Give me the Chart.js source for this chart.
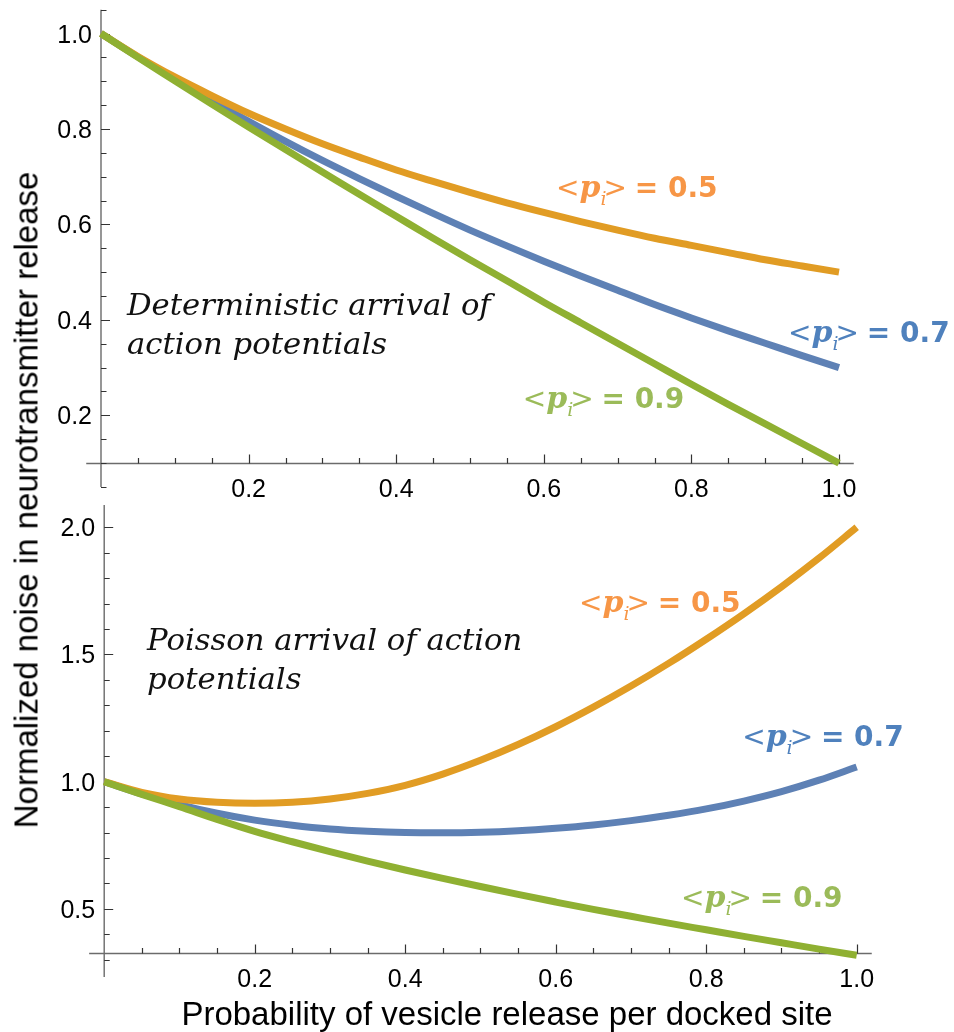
<!DOCTYPE html>
<html>
<head>
<meta charset="utf-8">
<title>Normalized noise in neurotransmitter release</title>
<script src="https://cdn.jsdelivr.net/npm/chart.js@4.4.1/dist/chart.umd.min.js"></script>
<style>
  body { margin: 0; background: #fff; }
  #wrap { position: relative; width: 954px; height: 1032px; overflow: hidden; }
  #wrap canvas { position: absolute; left: 0; }
  #top-chart { top: 0; }
  #bottom-chart { top: 500px; }
  .axis-title { position: absolute; font: 33px "Liberation Sans", Arial, sans-serif; line-height: 33px; white-space: nowrap; color: #000; }
  #y-title { left: 26px; top: 500px; transform: translate(-50%, -50%) rotate(-90deg); }
  #x-title { left: 507px; top: 997px; transform: translateX(-50%); }
</style>
</head>
<body>
<div id="wrap">
  <canvas id="top-chart" width="954" height="500"></canvas>
  <canvas id="bottom-chart" width="954" height="532"></canvas>
  <div id="y-title" class="axis-title">Normalized noise in neurotransmitter release</div>
  <div id="x-title" class="axis-title">Probability of vesicle release per docked site</div>
</div>
<script>
// probability of release per docked site (x values)
const releaseProb = [0, 0.05, 0.1, 0.15, 0.2, 0.25, 0.3, 0.35, 0.4, 0.45, 0.5,
                     0.55, 0.6, 0.65, 0.7, 0.75, 0.8, 0.85, 0.9, 0.95, 1.0];

// deterministic arrival of action potentials
const detP05 = [1.000, 0.952, 0.909, 0.870, 0.833, 0.800, 0.769, 0.741, 0.714, 0.690, 0.667,
                0.645, 0.625, 0.606, 0.588, 0.571, 0.556, 0.541, 0.526, 0.513, 0.500];
const detP07 = [1.000, 0.951, 0.904, 0.859, 0.816, 0.774, 0.734, 0.696, 0.659, 0.623, 0.588,
                0.555, 0.523, 0.492, 0.462, 0.432, 0.404, 0.377, 0.351, 0.325, 0.300];
const detP09 = [1.000, 0.950, 0.901, 0.852, 0.804, 0.757, 0.710, 0.663, 0.617, 0.571, 0.526,
                0.482, 0.437, 0.394, 0.351, 0.308, 0.265, 0.223, 0.182, 0.141, 0.100];

// poisson arrival of action potentials
const poisP05 = [1.000, 0.958, 0.932, 0.919, 0.915, 0.919, 0.932, 0.954, 0.986, 1.030, 1.084,
                 1.146, 1.216, 1.293, 1.376, 1.465, 1.560, 1.660, 1.766, 1.879, 2.000];
const poisP07 = [1.000, 0.952, 0.910, 0.876, 0.849, 0.829, 0.814, 0.805, 0.800, 0.799, 0.801,
                 0.807, 0.817, 0.830, 0.847, 0.868, 0.893, 0.924, 0.961, 1.006, 1.058];
const poisP09 = [1.000, 0.950, 0.902, 0.852, 0.805, 0.764, 0.725, 0.688, 0.653, 0.620, 0.588,
                 0.557, 0.527, 0.498, 0.471, 0.444, 0.418, 0.392, 0.367, 0.342, 0.318];

const xTickLabels = [0.2, 0.4, 0.6, 0.8, 1.0];
const detYTicks = [0.2, 0.4, 0.6, 0.8, 1.0];
const poisYTicks = [0.5, 1.0, 1.5, 2.0];

const lineColors = { p05: '#E19C24', p07: '#5E81B5', p09: '#8FB032' };
const tagColors = { p05: '#F79646', p07: '#4F81BD', p09: '#9BBB59' };

function toPoints(vals) {
    return releaseProb.map((p, i) => ({ x: p, y: vals[i] }));
}

// green first so it ends up on top, blue drawn underneath
function buildDatasets(p05, p07, p09) {
    return [
        { label: '<p_i> = 0.9', data: toPoints(p09), borderColor: lineColors.p09 },
        { label: '<p_i> = 0.5', data: toPoints(p05), borderColor: lineColors.p05 },
        { label: '<p_i> = 0.7', data: toPoints(p07), borderColor: lineColors.p07 }
    ];
}

function stepsBetween(a, b, step) {
    const out = [];
    for (let k = Math.ceil(a / step - 1e-6); k * step <= b + 1e-9; k++) {
        out.push(+(k * step).toFixed(4));
    }
    return out;
}

// Mathematica style axes: crossing lines, ticks pointing inwards
const mmaAxes = {
    id: 'mmaAxes',
    beforeDatasetsDraw(chart, args, o) {
        const ctx = chart.ctx;
        const x = chart.scales.x, y = chart.scales.y;
        const ox = x.getPixelForValue(0);
        const oy = Math.round(y.getPixelForValue(o.originY)) + 0.5;

        ctx.save();
        ctx.lineWidth = 1.4;
        ctx.strokeStyle = '#6b6b6b';
        ctx.beginPath();
        ctx.moveTo(ox, y.top); ctx.lineTo(ox, y.bottom);
        ctx.moveTo(x.left, oy); ctx.lineTo(x.right, oy);
        ctx.stroke();

        ctx.lineWidth = 1.2;
        ctx.strokeStyle = '#333';
        ctx.beginPath();
        stepsBetween(y.min, y.max, o.yMinor).forEach(v => {
            const major = o.yTicks.some(t => Math.abs(t - v) < 1e-6);
            const py = Math.round(y.getPixelForValue(v)) + 0.5;
            ctx.moveTo(ox, py);
            ctx.lineTo(ox + (major ? 9 : 5.5), py);
        });
        stepsBetween(0.05, 1.0, 0.05).forEach(v => {
            const major = xTickLabels.some(t => Math.abs(t - v) < 1e-6);
            const px = Math.round(x.getPixelForValue(v)) + 0.5;
            ctx.moveTo(px, oy);
            ctx.lineTo(px, oy - (major ? 9 : 5.5));
        });
        ctx.stroke();

        ctx.fillStyle = '#000';
        ctx.font = '25px "Liberation Sans", Arial, sans-serif';
        ctx.textAlign = 'right';
        o.yTicks.forEach(v => ctx.fillText(v.toFixed(1), ox - 9, y.getPixelForValue(v) + 9));
        ctx.textAlign = 'center';
        xTickLabels.forEach(v => ctx.fillText(v.toFixed(1), x.getPixelForValue(v), oy + 33));
        ctx.restore();
    }
};

function drawTag(ctx, px, py, value, color) {
    const parts = [
        ['<', '28px "DejaVu Sans"', 0, 0],
        ['p', 'italic bold 30px "DejaVu Serif"', 0, 0],
        ['i', 'italic 19px "DejaVu Serif"', 8, -3],
        ['>', '28px "DejaVu Sans"', 0, -2],
        [' = ' + value.toFixed(1), 'bold 28px "DejaVu Sans"', 0, 0]
    ];
    let cx = px;
    ctx.fillStyle = color;
    ctx.textAlign = 'left';
    parts.forEach(([t, f, dy, kern]) => {
        ctx.font = f;
        ctx.fillText(t, cx, py + dy);
        cx += ctx.measureText(t).width + kern;
    });
}

const notesPlugin = {
    id: 'notes',
    afterDatasetsDraw(chart, args, o) {
        const ctx = chart.ctx;
        const x = chart.scales.x, y = chart.scales.y;
        ctx.save();
        ctx.fillStyle = '#111';
        ctx.font = 'italic 30.7px "DejaVu Serif"';
        ctx.textAlign = 'left';
        const nx = x.getPixelForValue(o.note.p);
        const ny = y.getPixelForValue(o.note.v);
        o.note.lines.forEach((t, i) => ctx.fillText(t, nx, ny + i * 39));
        o.tags.forEach(t => drawTag(ctx, x.getPixelForValue(t.p), y.getPixelForValue(t.v), t.value, t.color));
        ctx.restore();
    }
};

function makeChart(id, datasets, scaleY, padding, axesOpts, notesOpts) {
    return new Chart(document.getElementById(id), {
        type: 'line',
        data: { datasets: datasets },
        plugins: [mmaAxes, notesPlugin],
        options: {
            responsive: false,
            animation: false,
            devicePixelRatio: 1,
            events: [],
            layout: { padding: padding },
            datasets: {
                line: {
                    borderWidth: 7,
                    pointRadius: 0,
                    fill: false,
                    cubicInterpolationMode: 'monotone',
                    borderCapStyle: 'butt',
                    borderJoinStyle: 'round',
                    clip: false
                }
            },
            scales: {
                x: { type: 'linear', min: -0.02, max: 1.02, display: false },
                y: { type: 'linear', min: scaleY[0], max: scaleY[1], display: false }
            },
            plugins: {
                legend: { display: false },
                tooltip: { enabled: false },
                mmaAxes: axesOpts,
                notes: notesOpts
            }
        }
    });
}

makeChart('top-chart',
    buildDatasets(detP05, detP07, detP09),
    [0.05, 1.05],
    { left: 86.24, right: 100.24, top: 9.64, bottom: 13.1 },
    { originY: 0.1, yTicks: detYTicks, yMinor: 0.05 },
    {
        note: { lines: ['Deterministic arrival of', 'action potentials'], p: 0.0352, v: 0.4102 },
        tags: [
            { value: 0.5, color: tagColors.p05, p: 0.6165, v: 0.6574 },
            { value: 0.7, color: tagColors.p07, p: 0.931, v: 0.3536 },
            { value: 0.9, color: tagColors.p09, p: 0.5714, v: 0.2153 }
        ]
    });

makeChart('bottom-chart',
    buildDatasets(poisP05, poisP07, poisP09),
    [0.232, 2.088],
    { left: 89.15, right: 82.25, top: 4.9, bottom: 54.9 },
    { originY: 0.3255, yTicks: poisYTicks, yMinor: 0.1 },
    {
        note: { lines: ['Poisson arrival of action', 'potentials'], p: 0.0569, v: 1.518 },
        tags: [
            { value: 0.5, color: tagColors.p05, p: 0.631, v: 1.667 },
            { value: 0.7, color: tagColors.p07, p: 0.8478, v: 1.1403 },
            { value: 0.9, color: tagColors.p09, p: 0.7665, v: 0.5075 }
        ]
    });
</script>
</body>
</html>
